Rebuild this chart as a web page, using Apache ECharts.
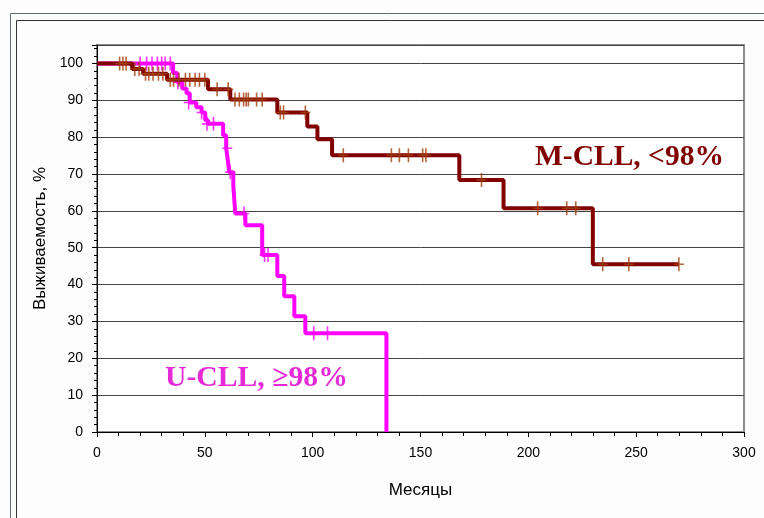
<!DOCTYPE html>
<html>
<head>
<meta charset="utf-8">
<script src="https://cdn.jsdelivr.net/npm/echarts@6/dist/echarts.min.js"></script>
<style>
html,body{margin:0;padding:0;background:#fdfdfd;}
#chart{width:764px;height:518px;}
</style>
</head>
<body>
<div id="chart"></div>
<script>
// ---- Data (months, survival %) ----
const mcllTime = [0, 16.3, 21.4, 32.5, 51.5, 61.8, 83.6, 97.5, 102.2, 109, 168, 188.5, 229.9, 269.8];
const mcllSurv = [100, 98.5, 97.2, 95.6, 93.0, 90.2, 86.7, 82.9, 79.4, 75.1, 68.4, 60.7, 45.5, 45.5];

const ucllTime = [0, 35.3, 37.2, 39.5, 41.5, 43, 46, 48.5, 50.2, 51.5, 58.5, 59.9, 60.6, 61.3, 63.2, 64.1, 68.8, 76.6, 83.6, 86.8, 91.5, 96.6, 134.2];
const ucllSurv = [100, 97.4, 94.9, 93.2, 91.9, 89.4, 88.1, 86.7, 84.6, 83.6, 80.5, 77.0, 74.0, 70.5, 67.0, 59.3, 56.1, 48.0, 42.3, 36.8, 31.4, 26.8, 0];

const mcllCensTime = [10.5, 12, 13.5, 17.5, 19.5, 22.5, 24, 26, 28.5, 30.5, 34, 35.5, 38, 41, 43, 45.5, 47.5, 50, 55.7, 60.8, 64, 66, 68, 69.2, 70.2, 74, 76.6, 85, 86.5, 96.6, 114.2, 136.5, 140.2, 144.4, 151, 152.5, 178.3, 204.3, 217.8, 222, 234.5, 246.6, 269.8];
const mcllCensSurv = [100, 100, 100, 98.5, 98.5, 97.2, 97.2, 97.2, 97.2, 97.2, 95.6, 95.6, 95.6, 95.6, 95.6, 95.6, 95.6, 95.6, 93.0, 93.0, 90.2, 90.2, 90.2, 90.2, 90.2, 90.2, 90.2, 86.7, 86.7, 86.7, 75.1, 75.1, 75.1, 75.1, 75.1, 75.1, 68.4, 60.7, 60.7, 60.7, 45.5, 45.5, 45.5];

const ucllCensTime = [20, 23, 25.5, 28, 30, 31.6, 34, 37.5, 42.5, 48.5, 51, 54, 60.4, 61.8, 68.2, 77.7, 79.3, 100.5, 106.9];
const ucllCensSurv = [100, 100, 100, 100, 100, 100, 100, 94.9, 89.4, 86.7, 83.6, 83.6, 77.0, 70.5, 59.3, 48.0, 48.0, 26.8, 26.8];

const xTitle = 'Месяцы';
const yTitle = 'Выживаемость, %';
const mcllLabel = 'M-CLL, <98%';
const ucllLabel = 'U-CLL, \u226598%';

const zip = (a, b) => a.map((v, i) => [v, b[i]]);
const plusPath = 'path://M4.2,0 H5.8 V6.2 H10 V7.8 H5.8 V14 H4.2 V7.8 H0 V6.2 H4.2 Z';

const chart = echarts.init(document.getElementById('chart'), null, {renderer: 'canvas'});
chart.setOption({
  backgroundColor: '#fdfdfd',
  animation: false,
  grid: {left: 97, top: 45, right: 20, bottom: 86, show: true, backgroundColor: '#ffffff', borderColor: '#8c8c8c', borderWidth: 2},
  xAxis: {
    type: 'value', min: 0, max: 300, interval: 50,
    name: xTitle, nameLocation: 'middle', nameGap: 50,
    nameTextStyle: {fontFamily: 'Liberation Sans, Arial', fontSize: 17, color: '#000'},
    axisLine: {show: true, lineStyle: {color: '#000', width: 1}},
    axisTick: {show: true, length: 5, lineStyle: {color: '#000'}},
    minorTick: {show: true, splitNumber: 5, length: 4, lineStyle: {color: '#000'}},
    axisLabel: {fontFamily: 'Liberation Sans, Arial', fontSize: 14, color: '#000', margin: 14},
    splitLine: {show: false}
  },
  yAxis: {
    type: 'value', min: 0, max: 105, interval: 10,
    name: yTitle, nameLocation: 'middle', nameGap: 47, nameRotate: 90,
    nameTextStyle: {fontFamily: 'Liberation Sans, Arial', fontSize: 17, color: '#000'},
    axisLine: {show: true, lineStyle: {color: '#000', width: 1}},
    axisTick: {show: true, length: 5, lineStyle: {color: '#000'}},
    minorTick: {show: true, splitNumber: 5, length: 3, lineStyle: {color: '#000'}},
    axisLabel: {fontFamily: 'Liberation Sans, Arial', fontSize: 14, color: '#000', margin: 14,
      formatter: v => (v > 100 ? '' : String(v))},
    splitLine: {show: true, lineStyle: {color: '#444', width: 1}}
  },
  series: [
    {type: 'line', step: 'end', data: zip(ucllTime, ucllSurv), showSymbol: false, symbol: 'none',
      lineStyle: {color: '#ff00ff', width: 4}, z: 3},
    {type: 'scatter', data: zip(ucllCensTime, ucllCensSurv), symbol: plusPath, symbolSize: [10, 14],
      itemStyle: {color: '#ff00ff'}, z: 4},
    {type: 'line', step: 'end', data: zip(mcllTime, mcllSurv), showSymbol: false, symbol: 'none',
      lineStyle: {color: '#800000', width: 4}, z: 5},
    {type: 'scatter', data: zip(mcllCensTime, mcllCensSurv), symbol: plusPath, symbolSize: [10, 14],
      itemStyle: {color: '#a0400a'}, z: 6}
  ],
  graphic: [
    {type: 'rect', left: 8, top: 11, shape: {width: 800, height: 560}, style: {fill: 'none', stroke: '#5f6b80', lineWidth: 1}, silent: true, z: -10},
    {type: 'rect', left: 14, top: 18, shape: {width: 800, height: 499}, style: {fill: 'none', stroke: '#333', lineWidth: 1}, silent: true, z: -10},
    {type: 'text', left: 535, top: 142, style: {text: mcllLabel, fill: '#800000', font: 'bold 29.5px "Liberation Serif", "Times New Roman", serif'}, z: 10},
    {type: 'text', left: 165, top: 363, style: {text: ucllLabel, fill: '#e62bd6', font: 'bold 29.7px "Liberation Serif", "Times New Roman", serif'}, z: 10}
  ]
});
</script>
</body>
</html>
